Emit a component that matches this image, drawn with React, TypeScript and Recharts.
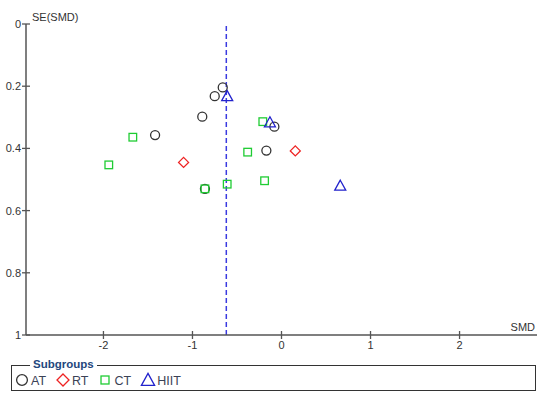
import React from 'react';
import {
    ScatterChart,
    Scatter,
    XAxis,
    YAxis,
    ReferenceLine,
    Label,
} from 'recharts';

// Subgroup data: SMD (x) and SE(SMD) (y)
const atSmd = [-0.66, -0.75, -0.89, -1.42, -0.08, -0.17, -0.86];
const atSe = [0.204, 0.232, 0.298, 0.357, 0.33, 0.407, 0.53];

const rtSmd = [-1.1, 0.155];
const rtSe = [0.445, 0.408];

const ctSmd = [-1.67, -1.94, -0.21, -0.38, -0.19, -0.61, -0.86];
const ctSe = [0.364, 0.453, 0.314, 0.412, 0.504, 0.515, 0.53];

const hiitSmd = [-0.61, -0.13, 0.66];
const hiitSe = [0.232, 0.316, 0.52];

const pooledSmd = -0.62;

const xTicks = [-2, -1, 0, 1, 2];
const yTicks = [0, 0.2, 0.4, 0.6, 0.8, 1];

const FONT = "'Liberation Sans', Arial, sans-serif";

const toPoints = (xs: number[], ys: number[]) => xs.map((smd, i) => ({ smd, se: ys[i] }));

type ShapeName = 'circle' | 'diamond' | 'square' | 'triangle';

const COLORS: Record<ShapeName, string> = {
    circle: '#333333',
    diamond: '#ee2222',
    square: '#1fcc33',
    triangle: '#2222cc',
};

const Marker = ({ kind, cx, cy, scale = 1 }: { kind: ShapeName; cx: number; cy: number; scale?: number }) => {
    const c = COLORS[kind];
    if (kind === 'circle') {
        return <circle cx={cx} cy={cy} r={4.5 * scale} fill="none" stroke={c} strokeWidth={1.3} />;
    }
    if (kind === 'diamond') {
        const d = 5 * scale;
        return (
            <polygon
                points={`${cx},${cy - d} ${cx + d},${cy} ${cx},${cy + d} ${cx - d},${cy}`}
                fill="none"
                stroke={c}
                strokeWidth={1.3}
            />
        );
    }
    if (kind === 'square') {
        const h = 3.8 * scale;
        return <rect x={cx - h} y={cy - h} width={h * 2} height={h * 2} fill="none" stroke={c} strokeWidth={1.3} />;
    }
    const w = 5.5 * scale;
    return (
        <polygon
            points={`${cx},${cy - 5.5 * scale} ${cx + w},${cy + 4.5 * scale} ${cx - w},${cy + 4.5 * scale}`}
            fill="none"
            stroke={c}
            strokeWidth={1.3}
        />
    );
};

const makeShape = (kind: ShapeName) => (props: any) => <Marker kind={kind} cx={props.cx} cy={props.cy} />;

const YTick = (props: any) => {
    const { x, y, payload } = props;
    return (
        <g>
            <line x1={x - 4} x2={x + 4} y1={y} y2={y} stroke="#555" strokeWidth={1.3} />
            <text x={x - 5} y={y + 4} textAnchor="end" fontSize={11} fill="#333" fontFamily={FONT}>
                {String(payload.value)}
            </text>
        </g>
    );
};

const XTick = (props: any) => {
    const { x, y, payload } = props;
    return (
        <g>
            <line x1={x} x2={x} y1={y - 4} y2={y + 4} stroke="#555" strokeWidth={1.3} />
            <text x={x} y={y + 14} textAnchor="middle" fontSize={11} fill="#333" fontFamily={FONT}>
                {String(payload.value)}
            </text>
        </g>
    );
};

const series: { name: string; kind: ShapeName; data: { smd: number; se: number }[] }[] = [
    { name: 'AT', kind: 'circle', data: toPoints(atSmd, atSe) },
    { name: 'RT', kind: 'diamond', data: toPoints(rtSmd, rtSe) },
    { name: 'CT', kind: 'square', data: toPoints(ctSmd, ctSe) },
    { name: 'HIIT', kind: 'triangle', data: toPoints(hiitSmd, hiitSe) },
];

const SubgroupLegend = () => (
    <div
        style={{
            position: 'absolute',
            left: 11,
            top: 365,
            width: 523,
            height: 24,
            border: '1.5px solid #333',
            fontFamily: FONT,
        }}
    >
        <span
            style={{
                position: 'absolute',
                left: 18,
                top: -9,
                padding: '0 3px',
                background: '#fff',
                color: '#24477d',
                fontWeight: 'bold',
                fontSize: 11.5,
                lineHeight: '14px',
            }}
        >
            Subgroups
        </span>
        <div style={{ position: 'absolute', left: 2, top: 5, display: 'flex', alignItems: 'center' }}>
            {series.map((s) => (
                <div key={s.name} style={{ display: 'flex', alignItems: 'center', marginRight: 9 }}>
                    <svg width={16} height={16}>
                        <Marker kind={s.kind} cx={8} cy={8} scale={s.kind === 'square' ? 1.05 : 1.2} />
                    </svg>
                    <span style={{ fontSize: 12.5, color: '#3b4256', marginLeft: 1, marginTop: 3 }}>{s.name}</span>
                </div>
            ))}
        </div>
    </div>
);

const FunnelPlot: React.FC = () => {
    return (
        <div style={{ position: 'absolute', left: 0, top: 0, width: 550, height: 404, background: '#fff' }}>
            <ScatterChart width={550} height={404} margin={{ top: 24, right: 13, bottom: 0, left: 0 }}>
                <XAxis
                    type="number"
                    dataKey="smd"
                    domain={[-2.87, 2.87]}
                    ticks={xTicks}
                    allowDataOverflow
                    height={69}
                    tickSize={0}
                    tickMargin={0}
                    tick={<XTick />}
                    axisLine={{ stroke: '#555', strokeWidth: 1.5 }}
                    tickLine={false}
                >
                    <Label
                        content={() => (
                            <text x={535} y={331} textAnchor="end" fontSize={11} fill="#333" fontFamily={FONT}>
                                SMD
                            </text>
                        )}
                    />
                </XAxis>
                <YAxis
                    type="number"
                    dataKey="se"
                    domain={[0, 1]}
                    ticks={yTicks}
                    reversed
                    allowDataOverflow
                    width={26}
                    tickSize={0}
                    tickMargin={0}
                    tick={<YTick />}
                    axisLine={{ stroke: '#555', strokeWidth: 1.5 }}
                    tickLine={false}
                >
                    <Label
                        content={() => (
                            <text x={32} y={21} textAnchor="start" fontSize={11} fill="#333" fontFamily={FONT}>
                                SE(SMD)
                            </text>
                        )}
                    />
                </YAxis>
                <ReferenceLine x={pooledSmd} stroke="#3a3ae0" strokeWidth={1.5} strokeDasharray="5 3" />
                {series.map((s) => (
                    <Scatter
                        key={s.name}
                        name={s.name}
                        data={s.data}
                        shape={makeShape(s.kind)}
                        isAnimationActive={false}
                    />
                ))}
            </ScatterChart>
            <SubgroupLegend />
        </div>
    );
};

export default FunnelPlot;
